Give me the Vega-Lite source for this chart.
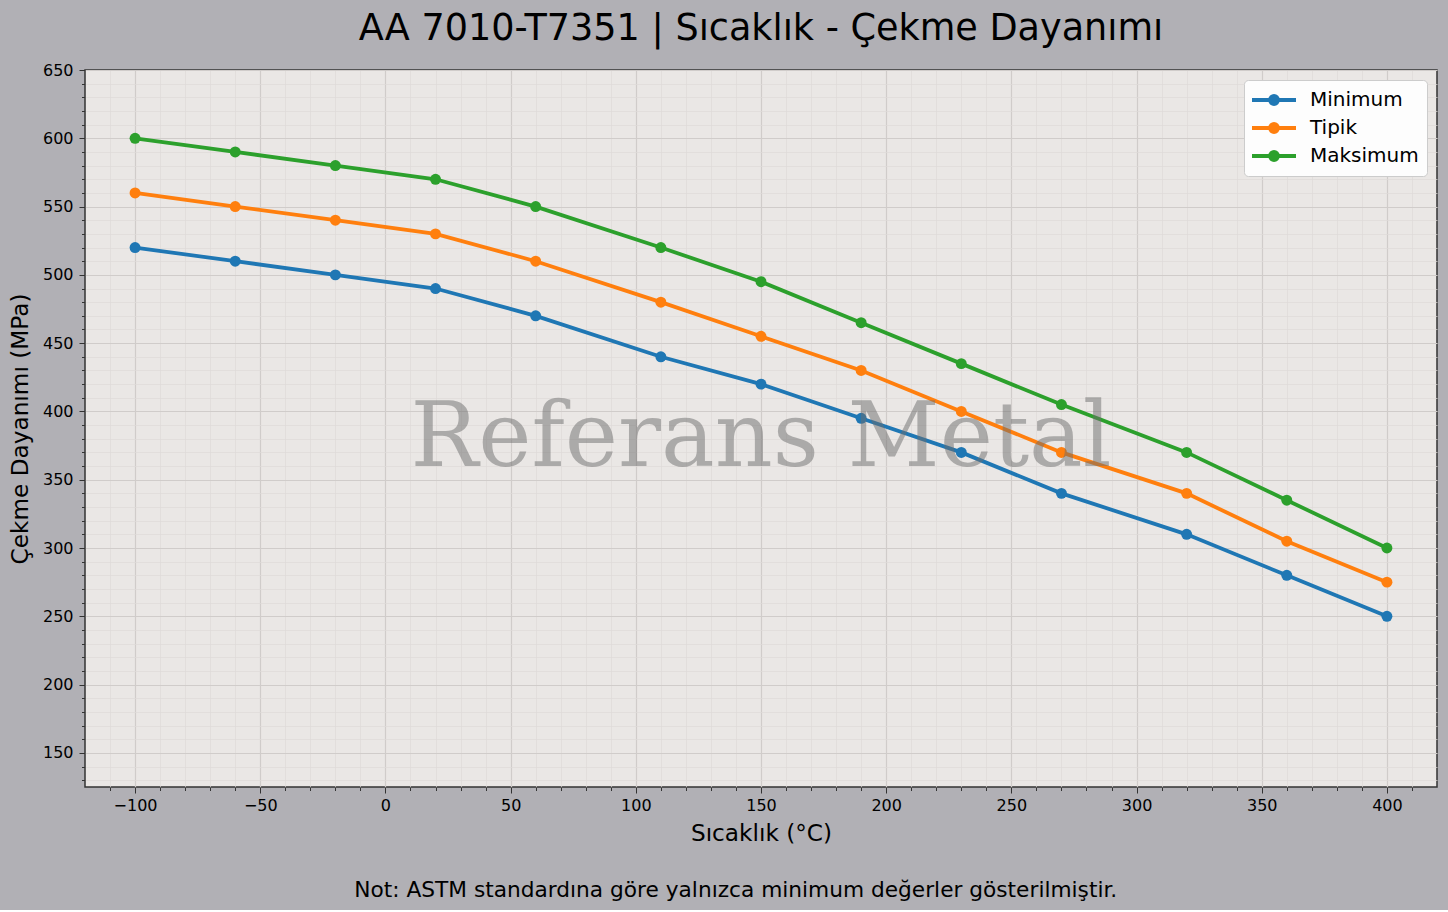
{
  "$schema": "https://vega.github.io/schema/vega-lite/v6.json",
  "background": "#b1b0b5",
  "padding": {"left": 7, "top": 10, "right": 11, "bottom": 8},
  "title": {"text": "Not: ASTM standardına göre yalnızca minimum değerler gösterilmiştir.", "orient": "bottom", "anchor": "middle", "fontSize": 21.7, "fontWeight": "normal", "font": "DejaVu Sans", "color": "#000000", "offset": 35, "dx": 13},
  "datasets": {
    "seri": [
      {"t": -100, "seri": "Minimum", "deger": 520},
      {"t": -60, "seri": "Minimum", "deger": 510},
      {"t": -20, "seri": "Minimum", "deger": 500},
      {"t": 20, "seri": "Minimum", "deger": 490},
      {"t": 60, "seri": "Minimum", "deger": 470},
      {"t": 110, "seri": "Minimum", "deger": 440},
      {"t": 150, "seri": "Minimum", "deger": 420},
      {"t": 190, "seri": "Minimum", "deger": 395},
      {"t": 230, "seri": "Minimum", "deger": 370},
      {"t": 270, "seri": "Minimum", "deger": 340},
      {"t": 320, "seri": "Minimum", "deger": 310},
      {"t": 360, "seri": "Minimum", "deger": 280},
      {"t": 400, "seri": "Minimum", "deger": 250},
      {"t": -100, "seri": "Tipik", "deger": 560},
      {"t": -60, "seri": "Tipik", "deger": 550},
      {"t": -20, "seri": "Tipik", "deger": 540},
      {"t": 20, "seri": "Tipik", "deger": 530},
      {"t": 60, "seri": "Tipik", "deger": 510},
      {"t": 110, "seri": "Tipik", "deger": 480},
      {"t": 150, "seri": "Tipik", "deger": 455},
      {"t": 190, "seri": "Tipik", "deger": 430},
      {"t": 230, "seri": "Tipik", "deger": 400},
      {"t": 270, "seri": "Tipik", "deger": 370},
      {"t": 320, "seri": "Tipik", "deger": 340},
      {"t": 360, "seri": "Tipik", "deger": 305},
      {"t": 400, "seri": "Tipik", "deger": 275},
      {"t": -100, "seri": "Maksimum", "deger": 600},
      {"t": -60, "seri": "Maksimum", "deger": 590},
      {"t": -20, "seri": "Maksimum", "deger": 580},
      {"t": 20, "seri": "Maksimum", "deger": 570},
      {"t": 60, "seri": "Maksimum", "deger": 550},
      {"t": 110, "seri": "Maksimum", "deger": 520},
      {"t": 150, "seri": "Maksimum", "deger": 495},
      {"t": 190, "seri": "Maksimum", "deger": 465},
      {"t": 230, "seri": "Maksimum", "deger": 435},
      {"t": 270, "seri": "Maksimum", "deger": 405},
      {"t": 320, "seri": "Maksimum", "deger": 370},
      {"t": 360, "seri": "Maksimum", "deger": 335},
      {"t": 400, "seri": "Maksimum", "deger": 300}
    ],
    "filigran": [
      {"t": 150, "deger": 380, "yazi": "Referans Metal"}
    ]
  },
  "vconcat": [
    {
      "title": {"text": "AA 7010-T7351 | Sıcaklık - Çekme Dayanımı", "anchor": "middle", "frame": "group", "fontSize": 36.6, "fontWeight": "normal", "font": "DejaVu Sans", "color": "#000000", "baseline": "alphabetic", "offset": -15},
      "width": 1352,
      "height": 717,
      "layer": [
        {
          "data": {"name": "seri"},
          "mark": {"type": "line", "strokeWidth": 3.8, "point": {"filled": true, "size": 120, "opacity": 1}, "clip": true},
          "encoding": {
            "x": {
              "field": "t", "type": "quantitative",
              "scale": {"domain": [-120, 420], "nice": false, "zero": false},
              "axis": {
                "title": "Sıcaklık (°C)",
                "values": [-110,-100,-90,-80,-70,-60,-50,-40,-30,-20,-10,0,10,20,30,40,50,60,70,80,90,100,110,120,130,140,150,160,170,180,190,200,210,220,230,240,250,260,270,280,290,300,310,320,330,340,350,360,370,380,390,400,410],
                "tickCount": 500,
                "labelExpr": "datum.value % 50 === 0 ? replace(datum.label, '-', '−') : ''",
                "labelOverlap": false,
                "tickSize": {"condition": {"test": "datum.value % 50 === 0", "value": 6}, "value": 3.5},
                "gridColor": {"condition": {"test": "datum.value % 50 === 0", "value": "#d0ccca"}, "value": "#dedad8"},
                "gridWidth": {"condition": {"test": "datum.value % 50 === 0", "value": 1.2}, "value": 0.7},
                "labelPadding": 4,
                "titlePadding": 9
              }
            },
            "y": {
              "field": "deger", "type": "quantitative",
              "scale": {"domain": [125, 650], "nice": false, "zero": false},
              "axis": {
                "title": "Çekme Dayanımı (MPa)",
                "values": [130,140,150,160,170,180,190,200,210,220,230,240,250,260,270,280,290,300,310,320,330,340,350,360,370,380,390,400,410,420,430,440,450,460,470,480,490,500,510,520,530,540,550,560,570,580,590,600,610,620,630,640,650],
                "tickCount": 500,
                "labelExpr": "datum.value % 50 === 0 ? datum.label : ''",
                "labelOverlap": false,
                "tickSize": {"condition": {"test": "datum.value % 50 === 0", "value": 6}, "value": 3.5},
                "gridColor": {"condition": {"test": "datum.value % 50 === 0", "value": "#d0ccca"}, "value": "#dedad8"},
                "gridWidth": {"condition": {"test": "datum.value % 50 === 0", "value": 1.2}, "value": 0.7},
                "labelPadding": 6,
                "titlePadding": 10
              }
            },
            "color": {
              "field": "seri", "type": "nominal",
              "scale": {"domain": ["Minimum", "Tipik", "Maksimum"], "range": ["#1f77b4", "#ff7f0e", "#2ca02c"]},
              "legend": {
                "title": null,
                "orient": "top-right",
                "offset": 10,
                "fillColor": "#fdfdfd",
                "strokeColor": "#cccccc",
                "cornerRadius": 4,
                "padding": 8,
                "labelFontSize": 20,
                "labelFont": "DejaVu Sans",
                "labelColor": "#000000",
                "symbolOffset": 10,
                "labelOffset": 24,
                "rowPadding": 4,
                "symbolType": "M-2.2,0L2.2,0M0.4,0A0.4,0.4,0,1,1,-0.4,0A0.4,0.4,0,1,1,0.4,0Z",
                "symbolSize": 400,
                "symbolStrokeWidth": 3.8,
                "encode": {"symbols": {"update": {"fill": {"scale": "color", "field": "value"}, "stroke": {"scale": "color", "field": "value"}}}}
              }
            }
          }
        },
        {
          "data": {"name": "filigran"},
          "mark": {"type": "text", "font": "DejaVu Serif", "fontSize": 90, "fill": "#6e6e6e", "opacity": 0.5, "align": "center", "baseline": "middle"},
          "encoding": {
            "x": {"field": "t", "type": "quantitative"},
            "y": {"field": "deger", "type": "quantitative"},
            "text": {"field": "yazi"}
          }
        }
      ]
    }
  ],
  "config": {
    "font": "DejaVu Sans",
    "view": {"fill": "#eae7e5", "stroke": "#333333", "strokeWidth": 1.5},
    "axis": {
      "domain": false,
      "grid": true,
      "tickColor": "#333333",
      "tickWidth": 1,
      "labelFont": "DejaVu Sans",
      "labelFontSize": 16,
      "labelColor": "#000000",
      "titleFont": "DejaVu Sans",
      "titleFontSize": 23.2,
      "titleFontWeight": "normal",
      "titleColor": "#000000"
    }
  }
}
